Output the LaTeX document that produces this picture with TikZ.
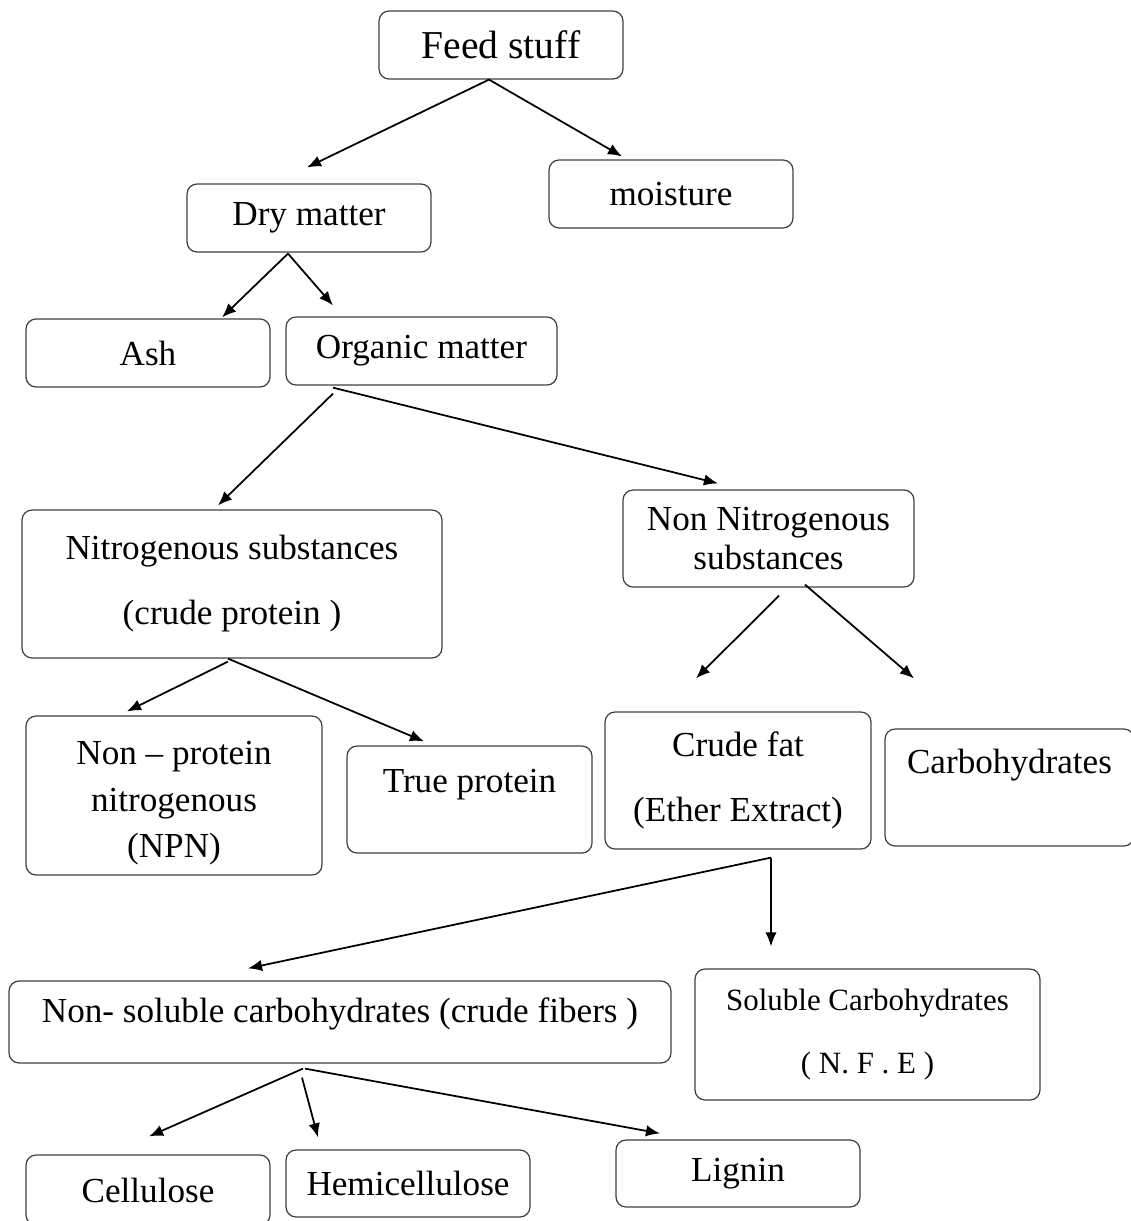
\documentclass[tikz,border=0pt]{standalone}
\usepackage{fontspec}
\setmainfont{Liberation Serif}
\usetikzlibrary{arrows.meta,calc}

\newcommand{\boxfont}{\fontsize{20}{24}\selectfont}

\begin{document}
\begin{tikzpicture}[
    x=0.02cm, y=-0.02cm, >={Latex[length=8pt,width=6.5pt]},
    box/.style={rectangle, draw=black!75, line width=0.7pt, rounded corners=0.2cm,
        align=center, inner sep=0pt, font=\boxfont},
    link/.style={->, line width=1pt}
]
    \useasboundingbox (0,0) rectangle (1131,1221);
    \clip (0,0) rectangle (1131,1221);

    % boxes
    \node[box, minimum width=4.88cm, minimum height=1.36cm, font=\fontsize{22.5}{27}\selectfont] (feed) at (501,45) {Feed stuff};
    \node[box, minimum width=4.88cm, minimum height=1.36cm] (moist) at (671,194) {moisture};
    \node[box, minimum width=4.88cm, minimum height=1.36cm] (dry) at (309,218) {Dry matter};
    \node[box, minimum width=4.88cm, minimum height=1.36cm] (ash) at (148,353) {Ash};
    \node[box, minimum width=5.42cm, minimum height=1.36cm] (org) at (421.5,351) {Organic matter};
    \node[box, minimum width=8.4cm, minimum height=2.96cm] (nitro) at (232,584)
        {Nitrogenous substances\\[13pt](crude protein )};
    \node[box, minimum width=5.82cm, minimum height=1.94cm] (nonnitro) at (768.5,538.5)
        {Non Nitrogenous\\[-1.3pt]substances};
    \node[box, minimum width=5.92cm, minimum height=3.18cm] (npn) at (174,795.5)
        {\rule{0pt}{22pt}Non -- protein\\[2.4pt]nitrogenous\\[2.4pt](NPN)};
    \node[box, minimum width=4.9cm, minimum height=2.14cm, text height=14pt, text depth=22.5pt] (truep) at (469.5,799.5) {True protein};
    \node[box, minimum width=5.32cm, minimum height=2.74cm] (fat) at (738,780.5)
        {Crude fat\\[13.4pt](Ether Extract)};
    \node[box, minimum width=4.98cm, minimum height=2.34cm, text height=14pt, text depth=30.4pt] (carbo) at (1009.5,787.5) {Carbohydrates};
    \node[box, minimum width=13.24cm, minimum height=1.64cm, text height=14pt, text depth=14pt] (nonsol) at (340,1022)
        {Non- soluble carbohydrates (crude fibers )};
    \node[box, minimum width=6.9cm, minimum height=2.62cm, font=\fontsize{17.6}{21}\selectfont] (solub) at (867.5,1034.5)
        {Soluble Carbohydrates\\[15pt]( N. F . E )};
    \node[box, minimum width=4.88cm, minimum height=1.4cm] (cell) at (148,1190) {Cellulose};
    \node[box, minimum width=4.88cm, minimum height=1.34cm] (hemi) at (408,1183.5) {Hemicellulose};
    \node[box, minimum width=4.88cm, minimum height=1.34cm] (lignin) at (738,1173.5) {Lignin};

    % arrows
    \draw[link] ($(feed.south)+(-12,0)$) -- ($(dry.north)+(-2,-16)$);
    \draw[link] ($(feed.south)+(-12,0)$) -- ($(moist.north)+(-49,-3)$);
    \draw[link] ($(dry.south)+(-21,1)$) -- ($(ash.north)+(74,-1)$);
    \draw[link] ($(dry.south)+(-21,1)$) -- ($(org.north)+(-88.5,-11)$);
    \draw[link] ($(org.south)+(-88.5,8)$) -- ($(nitro.north)+(-14,-4)$);
    \draw[link] ($(org.south)+(-88.5,2)$) -- ($(nonnitro.north)+(-50.5,-6)$);
    \draw[link] ($(nitro.south)+(-4,3)$) -- ($(npn.north)+(-47,-4)$);
    \draw[link] ($(nitro.south)+(-4,0)$) -- ($(truep.north)+(-45.5,-4)$);
    \draw[link] ($(nonnitro.south)+(10.5,8)$) -- ($(fat.north)+(-42,-33)$);
    \draw[link] ($(nonnitro.south)+(36.5,-3)$) -- ($(carbo.north)+(-95.5,-50)$);
    \draw[link] ($(fat.south)+(33,8)$) -- ($(nonsol.north)+(-92,-12)$);
    \draw[link] ($(fat.south)+(33,8)$) -- ($(solub.north)+(-96.5,-22)$);
    \draw[link] ($(nonsol.south)+(-37,5)$) -- ($(cell.north)+(1,-18)$);
    \draw[link] ($(nonsol.south)+(-38,14)$) -- ($(hemi.north)+(-90,-12)$);
    \draw[link] ($(nonsol.south)+(-35,5)$) -- ($(lignin.north)+(-78,-6)$);
\end{tikzpicture}
\end{document}
